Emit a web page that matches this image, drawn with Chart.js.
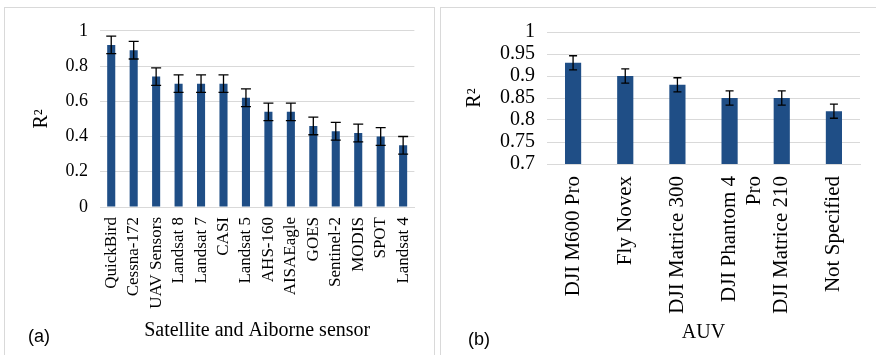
<!DOCTYPE html>
<html>
<head>
<meta charset="utf-8">
<script src="https://cdn.jsdelivr.net/npm/chart.js@4.4.1/dist/chart.umd.min.js"></script>
<style>
  body { margin: 0; background: #fff; width: 876px; height: 355px; overflow: hidden; position: relative; }
  .panel { position: absolute; top: 7px; height: 400px; border: 1px solid #d9d9d9; background: #fff; }
  #panelA { left: 4px; width: 429px; }
  #panelB { left: 440px; width: 440px; }
  .panel canvas { position: absolute; left: 0; top: 0; }
  .tag { position: absolute; font-family: 'Liberation Sans', Arial, sans-serif; font-size: 18px; line-height: 20px; color: #000; }
</style>
</head>
<body>
<div class="panel" id="panelA">
  <canvas id="chartA" width="429" height="347"></canvas>
  <div class="tag" style="left:23px; top:318px;">(a)</div>
</div>
<div class="panel" id="panelB">
  <canvas id="chartB" width="435" height="347"></canvas>
  <div class="tag" style="left:27px; top:321px;">(b)</div>
</div>
<script>
// panel (a) data
const sensorLabels = ['QuickBird', 'Cessna-172', 'UAV Sensors', 'Landsat 8', 'Landsat 7', 'CASI', 'Landsat 5',
    'AHS-160', 'AISAEagle', 'GOES', 'Sentinel-2', 'MODIS', 'SPOT', 'Landsat 4'];
const sensorR2 = [0.92, 0.89, 0.74, 0.70, 0.70, 0.70, 0.62, 0.54, 0.54, 0.46, 0.43, 0.42, 0.40, 0.35];
const sensorErr = [0.05, 0.05, 0.05, 0.05, 0.05, 0.05, 0.05, 0.05, 0.05, 0.05, 0.05, 0.05, 0.05, 0.05];
const sensorTicks = [0, 0.2, 0.4, 0.6, 0.8, 1];

// panel (b) data
const auvLabels = ['DJI M600 Pro', 'Fly Novex', 'DJI Matrice 300', ['DJI Phantom 4', 'Pro'], 'DJI Matrice 210', 'Not Specified'];
const auvR2 = [0.93, 0.90, 0.88, 0.85, 0.85, 0.82];
const auvErr = [0.016, 0.016, 0.016, 0.016, 0.016, 0.016];
const auvTicks = [0.7, 0.75, 0.8, 0.85, 0.9, 0.95, 1];

const barColor = '#1f4e86';
const gridColor = '#d9d9d9';
const serif = "'Liberation Serif', 'Times New Roman', serif";

// error bars drawn from dataset.errors through the y scale
const errorBars = {
    id: 'errorBars',
    afterDatasetsDraw(chart, args, opts) {
        const ctx = chart.ctx;
        const y = chart.scales.y;
        chart.data.datasets.forEach((ds, di) => {
            const meta = chart.getDatasetMeta(di);
            meta.data.forEach((bar, i) => {
                const v = ds.data[i], e = ds.errors[i];
                const top = y.getPixelForValue(v + e);
                const bot = y.getPixelForValue(v - e);
                ctx.save();
                ctx.strokeStyle = '#000';
                ctx.lineWidth = 1.3;
                ctx.beginPath();
                ctx.moveTo(bar.x, top); ctx.lineTo(bar.x, bot);
                ctx.moveTo(bar.x - opts.cap, top); ctx.lineTo(bar.x + opts.cap, top);
                ctx.moveTo(bar.x - opts.cap, bot); ctx.lineTo(bar.x + opts.cap, bot);
                ctx.stroke();
                ctx.restore();
            });
        });
    }
};

function makeChart(canvasId, o) {
    const ctx = document.getElementById(canvasId).getContext('2d');
    return new Chart(ctx, {
        type: 'bar',
        data: {
            labels: o.labels,
            datasets: [{
                data: o.values,
                errors: o.errors,
                backgroundColor: barColor,
                borderWidth: 0,
                barPercentage: o.barPct,
                categoryPercentage: 1
            }]
        },
        plugins: [errorBars],
        options: {
            responsive: false,
            animation: false,
            devicePixelRatio: 1,
            layout: { padding: { top: 19, right: o.padRight, left: 0, bottom: 0 } },
            plugins: {
                legend: { display: false },
                tooltip: { enabled: false },
                errorBars: { cap: o.cap }
            },
            scales: {
                x: {
                    grid: { display: false, drawTicks: false },
                    border: { color: gridColor },
                    ticks: {
                        color: '#000', minRotation: 90, maxRotation: 90, autoSkip: false,
                        padding: o.xPad, font: { family: serif, size: o.xFont }
                    },
                    title: {
                        display: true, text: o.xTitle, color: '#000',
                        padding: { top: 0, bottom: o.xTitlePad },
                        font: { family: serif, size: 20 }
                    },
                    afterFit: s => { s.height = o.xHeight; }
                },
                y: {
                    min: o.ticks[0],
                    max: o.ticks[o.ticks.length - 1],
                    grid: { color: gridColor, drawTicks: false },
                    border: { display: false },
                    ticks: {
                        color: '#000', padding: 12, autoSkip: false, font: { family: serif, size: o.yFont },
                        callback: v => String(+v.toFixed(2))
                    },
                    afterBuildTicks: s => { s.ticks = o.ticks.map(v => ({ value: v })); },
                    title: {
                        display: true, text: 'R²', color: '#000',
                        padding: { top: o.yTitlePad, bottom: 0 },
                        font: { family: serif, size: 20 }
                    },
                    afterFit: s => { s.width = o.yWidth; }
                }
            }
        }
    });
}

makeChart('chartA', {
    labels: sensorLabels, values: sensorR2, errors: sensorErr, ticks: sensorTicks,
    barPct: 0.36, cap: 5, padRight: 13, xPad: 10, xFont: 17, yFont: 18,
    xTitle: 'Satellite and Aiborne sensor', xTitlePad: 12, xHeight: 148,
    yTitlePad: 25, yWidth: 95
});

makeChart('chartB', {
    labels: auvLabels, values: auvR2, errors: auvErr, ticks: auvTicks,
    barPct: 0.31, cap: 4, padRight: 16, xPad: 12, xFont: 21, yFont: 20,
    xTitle: 'AUV', xTitlePad: 10, xHeight: 191,
    yTitlePad: 22, yWidth: 106
});
</script>
</body>
</html>
